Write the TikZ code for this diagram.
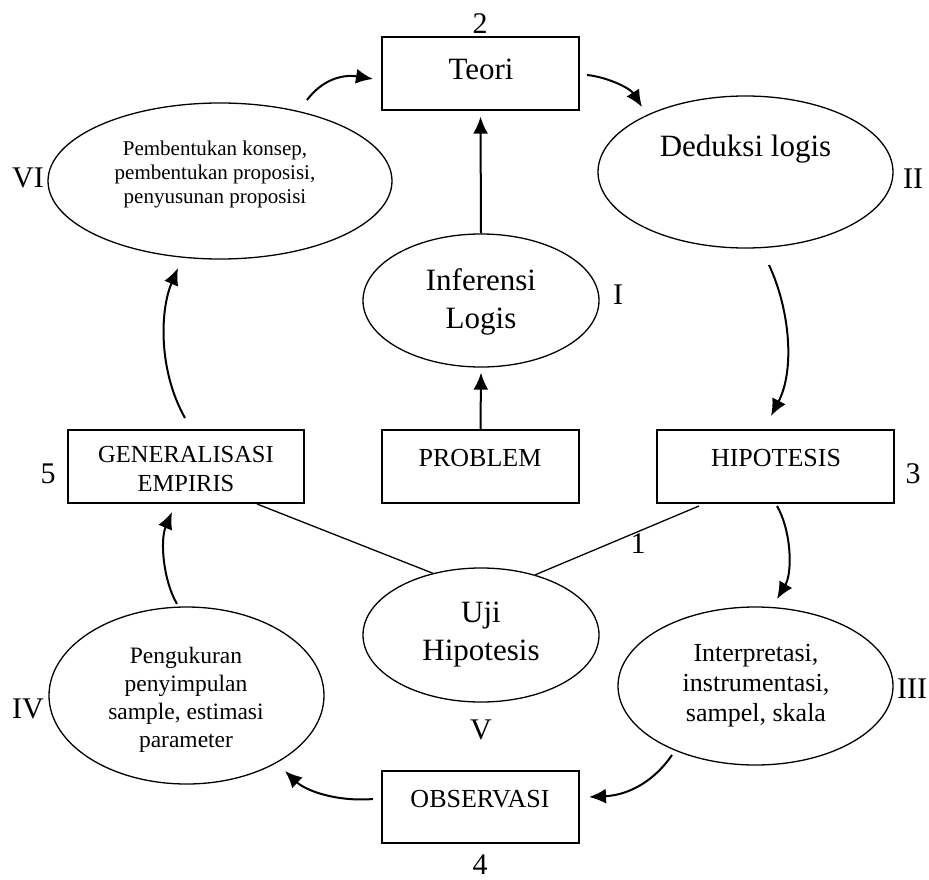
\documentclass[tikz,border=0pt]{standalone}
\usepackage{fontspec}
\setmainfont{Liberation Serif}
\usetikzlibrary{shapes.geometric,arrows.meta}
\begin{document}
\begin{tikzpicture}[x=1pt,y=-1pt,
  shp/.style={draw=black,line width=1.3pt},
  boxshape/.style={shp,rectangle,inner sep=0pt},
  ell/.style={shp,ellipse,inner sep=0pt},
  bigtxt/.style={font=\fontsize{31}{38}\selectfont,inner sep=0pt,align=center},
  boxtxt/.style={font=\fontsize{26}{30}\selectfont,inner sep=0pt,align=center},
  lbl/.style={font=\fontsize{30}{36}\selectfont,inner sep=0pt},
  arr/.style={line width=2pt,-{Latex[length=17pt,width=15pt]}},
  plain/.style={line width=1.3pt}]
\useasboundingbox (0,0) rectangle (929,880);
\fill[white] (0,0) rectangle (929,880);

% boxes
\node[boxshape,minimum width=197pt,minimum height=73pt] (teori) at (480.5,73.5) {};
\node[boxshape,minimum width=197pt,minimum height=73pt] (problem) at (480.5,466.5) {};
\node[boxshape,minimum width=236pt,minimum height=73pt] (gen) at (186,466.5) {};
\node[boxshape,minimum width=237pt,minimum height=73pt] (hip) at (775.5,466.5) {};
\node[boxshape,minimum width=197pt,minimum height=72pt] (obs) at (480.5,807) {};

\node[bigtxt,anchor=base] (teoriT) at (481,80) {Teori};
\node[boxtxt,anchor=base] (problemT) at (480,466) {PROBLEM};
\node[boxtxt,anchor=base] (hipT) at (776,466) {HIPOTESIS};
\node[boxtxt,anchor=base] (obsT) at (480,807) {OBSERVASI};
\node[font=\fontsize{24.5}{29}\selectfont,inner sep=0pt,align=center] (genT) at (186,469.5) {GENERALISASI\\EMPIRIS};

% ellipses
\node[ell,minimum width=344pt,minimum height=156pt] (vi) at (220,181) {};
\node[ell,minimum width=295pt,minimum height=152pt] (ded) at (745.5,172) {};
\node[ell,minimum width=236pt,minimum height=133pt] (inf) at (481,300.5) {};
\node[ell,minimum width=236pt,minimum height=134pt] (uji) at (481,635) {};
\node[ell,minimum width=275pt,minimum height=177pt] (iv) at (186.5,695.5) {};
\node[ell,minimum width=275pt,minimum height=158pt] (iii) at (755.5,686) {};

\node[font=\fontsize{21}{24}\selectfont,inner sep=0pt,align=center] (viT) at (215,174)
  {Pembentukan konsep,\\pembentukan proposisi,\\penyusunan proposisi};
\node[bigtxt,anchor=base] (dedT) at (745.5,157) {Deduksi logis};
\node[bigtxt] (infT) at (481,302) {Inferensi\\Logis};
\node[bigtxt] (ujiT) at (481,635) {Uji\\Hipotesis};
\node[font=\fontsize{23.5}{28}\selectfont,inner sep=0pt,align=center] (ivT) at (186,699.5)
  {Pengukuran\\penyimpulan\\sample, estimasi\\parameter};
\node[font=\fontsize{26}{30}\selectfont,inner sep=0pt,align=center] (iiiT) at (756,685.5)
  {Interpretasi,\\instrumentasi,\\sampel, skala};

% labels
\node[lbl] (l2) at (480,24) {2};
\node[lbl] (lVI) at (28,178) {VI};
\node[lbl] (lII) at (913,179) {II};
\node[lbl] (lI) at (618,295) {I};
\node[lbl] (l5) at (48,474) {5};
\node[lbl] (l3) at (913,474) {3};
\node[lbl] (l1) at (638,544) {1};
\node[lbl] (lIII) at (912,689) {III};
\node[lbl] (lIV) at (28,709) {IV};
\node[lbl] (lV) at (481,730) {V};
\node[lbl] (l4) at (480,865) {4};

% free ends of curved connectors
\coordinate (a1s) at (307,100);  \coordinate (a1e) at (373,79);
\coordinate (a2s) at (587,75);   \coordinate (a2e) at (642,107);
\coordinate (a5s) at (185,418);  \coordinate (a5e) at (178,268);
\coordinate (a6s) at (769,265);  \coordinate (a6e) at (771,416);
\coordinate (a7s) at (777,506);  \coordinate (a7e) at (777,599);
\coordinate (a8s) at (177,604);  \coordinate (a8e) at (172,512);
\coordinate (a9s) at (672,755);  \coordinate (a9e) at (589,797);
\coordinate (a10s) at (373,799); \coordinate (a10e) at (285,771);
\coordinate (g1) at (257,504);   \coordinate (h1) at (699,506);

% connectors
\draw[arr] (a1s) .. controls (322,80) and (342,74) .. (a1e);
\draw[arr] (a2s) .. controls (607,77) and (630,88) .. (a2e);
\draw[arr] (inf.north) -- ([yshift=-6pt]teori.south);
\draw[arr] (problem.north) -- ([yshift=-5pt]inf.south);
\draw[arr] (a5s) .. controls (158,370) and (160,310) .. (a5e);
\draw[arr] (a6s) .. controls (790,310) and (795,370) .. (a6e);
\draw[arr] (a7s) .. controls (791,530) and (793,572) .. (a7e);
\draw[arr] (a8s) .. controls (163,580) and (160,540) .. (a8e);
\draw[arr] (a9s) .. controls (655,780) and (630,795) .. (a9e);
\draw[arr] (a10s) .. controls (335,802) and (305,790) .. (a10e);
\draw[plain] (g1) -- (uji.128);
\draw[plain] (h1) -- (uji.48);
\end{tikzpicture}
\end{document}
